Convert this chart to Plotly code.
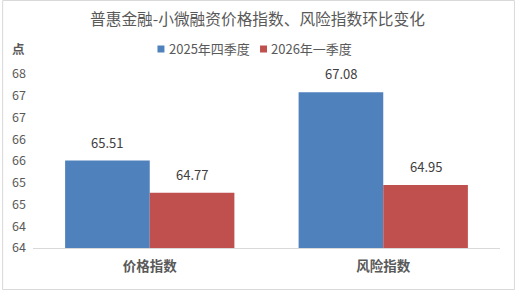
import plotly.graph_objects as go

categories = ["价格指数", "风险指数"]
series_names = ["2025年四季度", "2026年一季度"]
q4_2025 = [65.51, 67.08]
q1_2026 = [64.77, 64.95]
tick_vals = [63.5, 64, 64.5, 65, 65.5, 66, 66.5, 67, 67.5]
tick_text = ["64", "64", "65", "65", "66", "66", "67", "67", "68"]

FONT = "Noto Sans CJK SC, Microsoft YaHei, sans-serif"
colors = ["#4F81BD", "#C0504D"]

W, H = 515, 290
ML, MR, MT, MB = 31, 15, 74, 42
pw = W - ML - MR
ph = H - MT - MB


def px_x(x):
    return (x - ML) / pw


def px_y(y):
    return (H - MB - y) / ph


fig = go.Figure()
for name, vals, c in zip(series_names, [q4_2025, q1_2026], colors):
    fig.add_trace(go.Bar(
        x=categories, y=vals, name=name, marker_color=c,
        marker_line_width=0, showlegend=False,
    ))

annotations = []
# data labels
for si, vals in enumerate([q4_2025, q1_2026]):
    shift = -42.5 if si == 0 else 42.5
    for cat, v in zip(categories, vals):
        annotations.append(dict(
            x=cat, y=v, xref="x", yref="y", text=f"{v:.2f}", showarrow=False,
            xanchor="center", yanchor="bottom", xshift=shift, yshift=7,
            font=dict(size=13, color="#404040", family=FONT)))

# y-axis unit
annotations.append(dict(text="<b>点</b>", x=px_x(8), y=px_y(48), xref="paper", yref="paper",
                        showarrow=False, xanchor="left", yanchor="middle",
                        font=dict(size=12.5, color="#595959", family=FONT)))

# legend (manual)
shapes = []
leg_sq_x = [156, 259]
leg_txt_x = [169, 271]
for name, c, sx, tx in zip(series_names, colors, leg_sq_x, leg_txt_x):
    shapes.append(dict(type="rect", xref="paper", yref="paper",
                       x0=px_x(sx), x1=px_x(sx + 7), y0=px_y(52.5), y1=px_y(45.5),
                       fillcolor=c, line=dict(width=0)))
    annotations.append(dict(text=name, x=px_x(tx - 3), y=px_y(49), xref="paper", yref="paper",
                            showarrow=False, xanchor="left", yanchor="middle",
                            font=dict(size=13, color="#595959", family=FONT)))

# outer border
shapes.append(dict(type="rect", xref="paper", yref="paper",
                   x0=px_x(0.5), x1=px_x(W - 0.5), y0=px_y(H - 0.5), y1=px_y(0.5),
                   line=dict(color="#D9D9D9", width=1)))

fig.update_layout(
    width=W, height=H,
    margin=dict(l=ML, r=MR, t=MT, b=MB),
    paper_bgcolor="white", plot_bgcolor="white",
    barmode="group", bargap=0.275, bargroupgap=0,
    font=dict(family=FONT, color="#595959", size=12),
    title=dict(text="普惠金融-小微融资价格指数、风险指数环比变化",
               x=0.5, xanchor="center", y=1 - 20 / H, yanchor="middle",
               font=dict(size=15.7, color="#595959", family=FONT)),
    showlegend=False,
    xaxis=dict(showline=True, linecolor="#D9D9D9", linewidth=1, ticks="",
               tickfont=dict(size=13.5, color="#595959", family=FONT),
               showgrid=False, tickvals=categories,
               ticktext=[f"<b>{c}</b>" for c in categories], ticklabelstandoff=6),
    yaxis=dict(range=[63.5, 67.5], tickvals=tick_vals, ticktext=tick_text,
               showgrid=False, showline=False, zeroline=False, ticks="",
               tickfont=dict(size=12.5, color="#595959"), ticklabelstandoff=6),
    annotations=annotations,
    shapes=shapes,
)

fig.write_html("out.html")
